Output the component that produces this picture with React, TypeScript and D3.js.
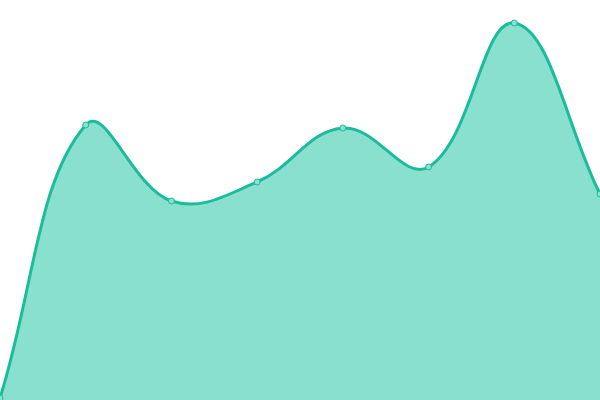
import React from "react";
import * as d3 from "d3";

const categories = [0, 1, 2, 3, 4, 5, 6, 7];
const values = [2, 275, 199, 218, 272, 233, 377, 206];

const W = 600;
const H = 400;
const TENSION = 0.4;

type P = { x: number; y: number };

function splinePath(pts: P[], closeBottom: number | null): string {
  const n = pts.length;
  const cps = pts.map((p1, i) => {
    const p0 = pts[Math.max(0, i - 1)];
    const p2 = pts[Math.min(n - 1, i + 1)];
    const d01 = Math.hypot(p1.x - p0.x, p1.y - p0.y);
    const d12 = Math.hypot(p2.x - p1.x, p2.y - p1.y);
    let s01 = d01 / (d01 + d12);
    let s12 = d12 / (d01 + d12);
    if (!isFinite(s01)) s01 = 0;
    if (!isFinite(s12)) s12 = 0;
    const fa = TENSION * s01;
    const fb = TENSION * s12;
    const clampX = (v: number) => Math.max(0, Math.min(W, v));
    const clampY = (v: number) => Math.max(0, Math.min(H, v));
    return {
      prev: { x: clampX(p1.x - fa * (p2.x - p0.x)), y: clampY(p1.y - fa * (p2.y - p0.y)) },
      next: { x: clampX(p1.x + fb * (p2.x - p0.x)), y: clampY(p1.y + fb * (p2.y - p0.y)) },
    };
  });
  const path = d3.path();
  path.moveTo(pts[0].x, pts[0].y);
  for (let i = 1; i < n; i++) {
    const a = cps[i - 1].next;
    const b = cps[i].prev;
    path.bezierCurveTo(a.x, a.y, b.x, b.y, pts[i].x, pts[i].y);
  }
  if (closeBottom !== null) {
    path.lineTo(pts[n - 1].x, closeBottom);
    path.lineTo(pts[0].x, closeBottom);
    path.closePath();
  }
  return path.toString();
}

export default function App() {
  const x = d3.scaleLinear().domain([0, categories.length - 1]).range([0, W]);
  const y = d3.scaleLinear().domain([0, 400]).range([H, 0]);
  const pts: P[] = categories.map((c, i) => ({ x: x(c), y: y(values[i]) }));
  return (
    <svg
      width={W}
      height={H}
      style={{ position: "absolute", left: 0, top: 0, display: "block" }}
    >
      <path d={splinePath(pts, H)} fill="#89e0cf" />
      <path d={splinePath(pts, null)} fill="none" stroke="#1abc9c" strokeWidth={3} />
      {pts.map((p, i) => (
        <circle
          key={i}
          cx={p.x}
          cy={p.y}
          r={3}
          fill="#89e0cf"
          stroke="#1abc9c"
          strokeWidth={1}
        />
      ))}
    </svg>
  );
}
